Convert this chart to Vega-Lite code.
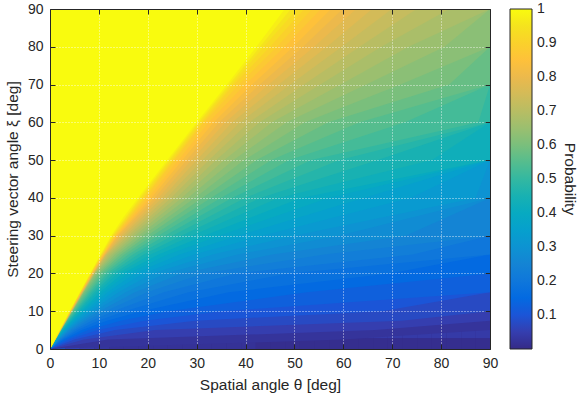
{
"$schema": "https://vega.github.io/schema/vega-lite/v6.json",
"width": 440, "height": 340,
"autosize": "none",
"padding": {"left": 50, "top": 9, "right": 90, "bottom": 56},
"background": "white",
"config": {
  "font": "Liberation Sans",
  "view": {"stroke": null, "fill": "#352a87"},
  "axis": {"labelFont": "Liberation Sans", "titleFont": "Liberation Sans", "labelFontSize": 14, "titleFontSize": 15.5, "labelColor": "#262626", "titleColor": "#262626", "titleFontWeight": "normal", "domain": true, "domainColor": "#262626", "domainWidth": 1, "tickColor": "#262626", "tickSize": -5},
  "legend": {"labelFont": "Liberation Sans", "titleFont": "Liberation Sans"}
},
"data": {"values": [
{"t":0,"s":0,"p":0.17},{"t":3,"s":0,"p":0.06},{"t":6,"s":0,"p":0.04},{"t":9,"s":0,"p":0.03},{"t":12,"s":0,"p":0.02},{"t":15,"s":0,"p":0.02},{"t":18,"s":0,"p":0.02},{"t":21,"s":0,"p":0.02},{"t":24,"s":0,"p":0.02},{"t":27,"s":0,"p":0.02},{"t":30,"s":0,"p":0.02},{"t":33,"s":0,"p":0.02},{"t":36,"s":0,"p":0.02},{"t":39,"s":0,"p":0.02},{"t":42,"s":0,"p":0.01},{"t":45,"s":0,"p":0.01},{"t":48,"s":0,"p":0.01},{"t":51,"s":0,"p":0.01},{"t":54,"s":0,"p":0.01},{"t":57,"s":0,"p":0.01},{"t":60,"s":0,"p":0.01},{"t":63,"s":0,"p":0.01},{"t":66,"s":0,"p":0.01},{"t":69,"s":0,"p":0.01},{"t":72,"s":0,"p":0.01},{"t":75,"s":0,"p":0.01},{"t":78,"s":0,"p":0.01},{"t":81,"s":0,"p":0.01},{"t":84,"s":0,"p":0.01},{"t":87,"s":0,"p":0.01},
{"t":0,"s":3,"p":0.5},{"t":3,"s":3,"p":0.2},{"t":6,"s":3,"p":0.13},{"t":9,"s":3,"p":0.1},{"t":12,"s":3,"p":0.09},{"t":15,"s":3,"p":0.08},{"t":18,"s":3,"p":0.07},{"t":21,"s":3,"p":0.06},{"t":24,"s":3,"p":0.06},{"t":27,"s":3,"p":0.06},{"t":30,"s":3,"p":0.05},{"t":33,"s":3,"p":0.05},{"t":36,"s":3,"p":0.05},{"t":39,"s":3,"p":0.05},{"t":42,"s":3,"p":0.05},{"t":45,"s":3,"p":0.05},{"t":48,"s":3,"p":0.05},{"t":51,"s":3,"p":0.05},{"t":54,"s":3,"p":0.05},{"t":57,"s":3,"p":0.04},{"t":60,"s":3,"p":0.04},{"t":63,"s":3,"p":0.04},{"t":66,"s":3,"p":0.04},{"t":69,"s":3,"p":0.04},{"t":72,"s":3,"p":0.04},{"t":75,"s":3,"p":0.04},{"t":78,"s":3,"p":0.04},{"t":81,"s":3,"p":0.04},{"t":84,"s":3,"p":0.04},{"t":87,"s":3,"p":0.04},
{"t":0,"s":6,"p":1},{"t":3,"s":6,"p":0.37},{"t":6,"s":6,"p":0.24},{"t":9,"s":6,"p":0.18},{"t":12,"s":6,"p":0.15},{"t":15,"s":6,"p":0.14},{"t":18,"s":6,"p":0.12},{"t":21,"s":6,"p":0.11},{"t":24,"s":6,"p":0.11},{"t":27,"s":6,"p":0.1},{"t":30,"s":6,"p":0.1},{"t":33,"s":6,"p":0.09},{"t":36,"s":6,"p":0.09},{"t":39,"s":6,"p":0.09},{"t":42,"s":6,"p":0.09},{"t":45,"s":6,"p":0.08},{"t":48,"s":6,"p":0.08},{"t":51,"s":6,"p":0.08},{"t":54,"s":6,"p":0.08},{"t":57,"s":6,"p":0.08},{"t":60,"s":6,"p":0.08},{"t":63,"s":6,"p":0.08},{"t":66,"s":6,"p":0.08},{"t":69,"s":6,"p":0.08},{"t":72,"s":6,"p":0.07},{"t":75,"s":6,"p":0.07},{"t":78,"s":6,"p":0.07},{"t":81,"s":6,"p":0.07},{"t":84,"s":6,"p":0.07},{"t":87,"s":6,"p":0.07},
{"t":0,"s":9,"p":1},{"t":3,"s":9,"p":0.56},{"t":6,"s":9,"p":0.36},{"t":9,"s":9,"p":0.27},{"t":12,"s":9,"p":0.22},{"t":15,"s":9,"p":0.2},{"t":18,"s":9,"p":0.18},{"t":21,"s":9,"p":0.16},{"t":24,"s":9,"p":0.15},{"t":27,"s":9,"p":0.14},{"t":30,"s":9,"p":0.14},{"t":33,"s":9,"p":0.13},{"t":36,"s":9,"p":0.13},{"t":39,"s":9,"p":0.12},{"t":42,"s":9,"p":0.12},{"t":45,"s":9,"p":0.12},{"t":48,"s":9,"p":0.11},{"t":51,"s":9,"p":0.11},{"t":54,"s":9,"p":0.11},{"t":57,"s":9,"p":0.11},{"t":60,"s":9,"p":0.11},{"t":63,"s":9,"p":0.11},{"t":66,"s":9,"p":0.1},{"t":69,"s":9,"p":0.1},{"t":72,"s":9,"p":0.1},{"t":75,"s":9,"p":0.1},{"t":78,"s":9,"p":0.1},{"t":81,"s":9,"p":0.1},{"t":84,"s":9,"p":0.1},{"t":87,"s":9,"p":0.1},
{"t":0,"s":12,"p":1},{"t":3,"s":12,"p":0.62},{"t":6,"s":12,"p":0.47},{"t":9,"s":12,"p":0.35},{"t":12,"s":12,"p":0.29},{"t":15,"s":12,"p":0.25},{"t":18,"s":12,"p":0.22},{"t":21,"s":12,"p":0.21},{"t":24,"s":12,"p":0.19},{"t":27,"s":12,"p":0.18},{"t":30,"s":12,"p":0.17},{"t":33,"s":12,"p":0.16},{"t":36,"s":12,"p":0.16},{"t":39,"s":12,"p":0.15},{"t":42,"s":12,"p":0.15},{"t":45,"s":12,"p":0.14},{"t":48,"s":12,"p":0.14},{"t":51,"s":12,"p":0.14},{"t":54,"s":12,"p":0.14},{"t":57,"s":12,"p":0.13},{"t":60,"s":12,"p":0.13},{"t":63,"s":12,"p":0.13},{"t":66,"s":12,"p":0.13},{"t":69,"s":12,"p":0.13},{"t":72,"s":12,"p":0.12},{"t":75,"s":12,"p":0.12},{"t":78,"s":12,"p":0.12},{"t":81,"s":12,"p":0.12},{"t":84,"s":12,"p":0.12},{"t":87,"s":12,"p":0.12},
{"t":0,"s":15,"p":1},{"t":3,"s":15,"p":1},{"t":6,"s":15,"p":0.57},{"t":9,"s":15,"p":0.43},{"t":12,"s":15,"p":0.35},{"t":15,"s":15,"p":0.3},{"t":18,"s":15,"p":0.27},{"t":21,"s":15,"p":0.25},{"t":24,"s":15,"p":0.23},{"t":27,"s":15,"p":0.22},{"t":30,"s":15,"p":0.2},{"t":33,"s":15,"p":0.2},{"t":36,"s":15,"p":0.19},{"t":39,"s":15,"p":0.18},{"t":42,"s":15,"p":0.18},{"t":45,"s":15,"p":0.17},{"t":48,"s":15,"p":0.17},{"t":51,"s":15,"p":0.16},{"t":54,"s":15,"p":0.16},{"t":57,"s":15,"p":0.16},{"t":60,"s":15,"p":0.16},{"t":63,"s":15,"p":0.15},{"t":66,"s":15,"p":0.15},{"t":69,"s":15,"p":0.15},{"t":72,"s":15,"p":0.15},{"t":75,"s":15,"p":0.15},{"t":78,"s":15,"p":0.14},{"t":81,"s":15,"p":0.14},{"t":84,"s":15,"p":0.14},{"t":87,"s":15,"p":0.14},
{"t":0,"s":18,"p":1},{"t":3,"s":18,"p":1},{"t":6,"s":18,"p":0.65},{"t":9,"s":18,"p":0.51},{"t":12,"s":18,"p":0.42},{"t":15,"s":18,"p":0.36},{"t":18,"s":18,"p":0.32},{"t":21,"s":18,"p":0.29},{"t":24,"s":18,"p":0.27},{"t":27,"s":18,"p":0.25},{"t":30,"s":18,"p":0.24},{"t":33,"s":18,"p":0.23},{"t":36,"s":18,"p":0.22},{"t":39,"s":18,"p":0.21},{"t":42,"s":18,"p":0.2},{"t":45,"s":18,"p":0.2},{"t":48,"s":18,"p":0.19},{"t":51,"s":18,"p":0.19},{"t":54,"s":18,"p":0.18},{"t":57,"s":18,"p":0.18},{"t":60,"s":18,"p":0.18},{"t":63,"s":18,"p":0.17},{"t":66,"s":18,"p":0.17},{"t":69,"s":18,"p":0.17},{"t":72,"s":18,"p":0.17},{"t":75,"s":18,"p":0.16},{"t":78,"s":18,"p":0.16},{"t":81,"s":18,"p":0.16},{"t":84,"s":18,"p":0.16},{"t":87,"s":18,"p":0.16},
{"t":0,"s":21,"p":1},{"t":3,"s":21,"p":1},{"t":6,"s":21,"p":1},{"t":9,"s":21,"p":0.63},{"t":12,"s":21,"p":0.51},{"t":15,"s":21,"p":0.44},{"t":18,"s":21,"p":0.39},{"t":21,"s":21,"p":0.35},{"t":24,"s":21,"p":0.32},{"t":27,"s":21,"p":0.3},{"t":30,"s":21,"p":0.29},{"t":33,"s":21,"p":0.27},{"t":36,"s":21,"p":0.26},{"t":39,"s":21,"p":0.25},{"t":42,"s":21,"p":0.24},{"t":45,"s":21,"p":0.24},{"t":48,"s":21,"p":0.23},{"t":51,"s":21,"p":0.22},{"t":54,"s":21,"p":0.22},{"t":57,"s":21,"p":0.21},{"t":60,"s":21,"p":0.21},{"t":63,"s":21,"p":0.21},{"t":66,"s":21,"p":0.2},{"t":69,"s":21,"p":0.2},{"t":72,"s":21,"p":0.2},{"t":75,"s":21,"p":0.2},{"t":78,"s":21,"p":0.19},{"t":81,"s":21,"p":0.19},{"t":84,"s":21,"p":0.19},{"t":87,"s":21,"p":0.19},
{"t":0,"s":24,"p":1},{"t":3,"s":24,"p":1},{"t":6,"s":24,"p":1},{"t":9,"s":24,"p":0.75},{"t":12,"s":24,"p":0.61},{"t":15,"s":24,"p":0.52},{"t":18,"s":24,"p":0.46},{"t":21,"s":24,"p":0.42},{"t":24,"s":24,"p":0.38},{"t":27,"s":24,"p":0.36},{"t":30,"s":24,"p":0.34},{"t":33,"s":24,"p":0.32},{"t":36,"s":24,"p":0.31},{"t":39,"s":24,"p":0.29},{"t":42,"s":24,"p":0.28},{"t":45,"s":24,"p":0.28},{"t":48,"s":24,"p":0.27},{"t":51,"s":24,"p":0.26},{"t":54,"s":24,"p":0.25},{"t":57,"s":24,"p":0.25},{"t":60,"s":24,"p":0.24},{"t":63,"s":24,"p":0.24},{"t":66,"s":24,"p":0.24},{"t":69,"s":24,"p":0.23},{"t":72,"s":24,"p":0.23},{"t":75,"s":24,"p":0.23},{"t":78,"s":24,"p":0.22},{"t":81,"s":24,"p":0.22},{"t":84,"s":24,"p":0.22},{"t":87,"s":24,"p":0.22},
{"t":0,"s":27,"p":1},{"t":3,"s":27,"p":1},{"t":6,"s":27,"p":1},{"t":9,"s":27,"p":0.8},{"t":12,"s":27,"p":0.72},{"t":15,"s":27,"p":0.6},{"t":18,"s":27,"p":0.54},{"t":21,"s":27,"p":0.48},{"t":24,"s":27,"p":0.44},{"t":27,"s":27,"p":0.41},{"t":30,"s":27,"p":0.39},{"t":33,"s":27,"p":0.37},{"t":36,"s":27,"p":0.35},{"t":39,"s":27,"p":0.34},{"t":42,"s":27,"p":0.32},{"t":45,"s":27,"p":0.31},{"t":48,"s":27,"p":0.3},{"t":51,"s":27,"p":0.3},{"t":54,"s":27,"p":0.29},{"t":57,"s":27,"p":0.28},{"t":60,"s":27,"p":0.28},{"t":63,"s":27,"p":0.27},{"t":66,"s":27,"p":0.27},{"t":69,"s":27,"p":0.26},{"t":72,"s":27,"p":0.26},{"t":75,"s":27,"p":0.26},{"t":78,"s":27,"p":0.25},{"t":81,"s":27,"p":0.25},{"t":84,"s":27,"p":0.25},{"t":87,"s":27,"p":0.24},
{"t":0,"s":30,"p":1},{"t":3,"s":30,"p":1},{"t":6,"s":30,"p":1},{"t":9,"s":30,"p":1},{"t":12,"s":30,"p":0.84},{"t":15,"s":30,"p":0.71},{"t":18,"s":30,"p":0.62},{"t":21,"s":30,"p":0.56},{"t":24,"s":30,"p":0.51},{"t":27,"s":30,"p":0.47},{"t":30,"s":30,"p":0.44},{"t":33,"s":30,"p":0.42},{"t":36,"s":30,"p":0.4},{"t":39,"s":30,"p":0.38},{"t":42,"s":30,"p":0.37},{"t":45,"s":30,"p":0.35},{"t":48,"s":30,"p":0.34},{"t":51,"s":30,"p":0.33},{"t":54,"s":30,"p":0.32},{"t":57,"s":30,"p":0.32},{"t":60,"s":30,"p":0.31},{"t":63,"s":30,"p":0.3},{"t":66,"s":30,"p":0.3},{"t":69,"s":30,"p":0.29},{"t":72,"s":30,"p":0.29},{"t":75,"s":30,"p":0.28},{"t":78,"s":30,"p":0.28},{"t":81,"s":30,"p":0.27},{"t":84,"s":30,"p":0.27},{"t":87,"s":30,"p":0.27},
{"t":0,"s":33,"p":1},{"t":3,"s":33,"p":1},{"t":6,"s":33,"p":1},{"t":9,"s":33,"p":1},{"t":12,"s":33,"p":0.87},{"t":15,"s":33,"p":0.8},{"t":18,"s":33,"p":0.7},{"t":21,"s":33,"p":0.63},{"t":24,"s":33,"p":0.57},{"t":27,"s":33,"p":0.53},{"t":30,"s":33,"p":0.49},{"t":33,"s":33,"p":0.46},{"t":36,"s":33,"p":0.44},{"t":39,"s":33,"p":0.42},{"t":42,"s":33,"p":0.4},{"t":45,"s":33,"p":0.39},{"t":48,"s":33,"p":0.37},{"t":51,"s":33,"p":0.36},{"t":54,"s":33,"p":0.35},{"t":57,"s":33,"p":0.34},{"t":60,"s":33,"p":0.33},{"t":63,"s":33,"p":0.33},{"t":66,"s":33,"p":0.32},{"t":69,"s":33,"p":0.31},{"t":72,"s":33,"p":0.31},{"t":75,"s":33,"p":0.3},{"t":78,"s":33,"p":0.3},{"t":81,"s":33,"p":0.29},{"t":84,"s":33,"p":0.29},{"t":87,"s":33,"p":0.29},
{"t":0,"s":36,"p":1},{"t":3,"s":36,"p":1},{"t":6,"s":36,"p":1},{"t":9,"s":36,"p":1},{"t":12,"s":36,"p":1},{"t":15,"s":36,"p":0.89},{"t":18,"s":36,"p":0.78},{"t":21,"s":36,"p":0.69},{"t":24,"s":36,"p":0.63},{"t":27,"s":36,"p":0.58},{"t":30,"s":36,"p":0.54},{"t":33,"s":36,"p":0.51},{"t":36,"s":36,"p":0.48},{"t":39,"s":36,"p":0.46},{"t":42,"s":36,"p":0.44},{"t":45,"s":36,"p":0.42},{"t":48,"s":36,"p":0.41},{"t":51,"s":36,"p":0.39},{"t":54,"s":36,"p":0.38},{"t":57,"s":36,"p":0.37},{"t":60,"s":36,"p":0.36},{"t":63,"s":36,"p":0.36},{"t":66,"s":36,"p":0.35},{"t":69,"s":36,"p":0.34},{"t":72,"s":36,"p":0.33},{"t":75,"s":36,"p":0.33},{"t":78,"s":36,"p":0.32},{"t":81,"s":36,"p":0.32},{"t":84,"s":36,"p":0.31},{"t":87,"s":36,"p":0.31},
{"t":0,"s":39,"p":1},{"t":3,"s":39,"p":1},{"t":6,"s":39,"p":1},{"t":9,"s":39,"p":1},{"t":12,"s":39,"p":1},{"t":15,"s":39,"p":1},{"t":18,"s":39,"p":0.85},{"t":21,"s":39,"p":0.75},{"t":24,"s":39,"p":0.68},{"t":27,"s":39,"p":0.62},{"t":30,"s":39,"p":0.58},{"t":33,"s":39,"p":0.54},{"t":36,"s":39,"p":0.51},{"t":39,"s":39,"p":0.49},{"t":42,"s":39,"p":0.46},{"t":45,"s":39,"p":0.45},{"t":48,"s":39,"p":0.43},{"t":51,"s":39,"p":0.42},{"t":54,"s":39,"p":0.4},{"t":57,"s":39,"p":0.39},{"t":60,"s":39,"p":0.38},{"t":63,"s":39,"p":0.37},{"t":66,"s":39,"p":0.36},{"t":69,"s":39,"p":0.36},{"t":72,"s":39,"p":0.35},{"t":75,"s":39,"p":0.34},{"t":78,"s":39,"p":0.34},{"t":81,"s":39,"p":0.33},{"t":84,"s":39,"p":0.33},{"t":87,"s":39,"p":0.32},
{"t":0,"s":42,"p":1},{"t":3,"s":42,"p":1},{"t":6,"s":42,"p":1},{"t":9,"s":42,"p":1},{"t":12,"s":42,"p":1},{"t":15,"s":42,"p":1},{"t":18,"s":42,"p":0.9},{"t":21,"s":42,"p":0.81},{"t":24,"s":42,"p":0.73},{"t":27,"s":42,"p":0.67},{"t":30,"s":42,"p":0.62},{"t":33,"s":42,"p":0.58},{"t":36,"s":42,"p":0.55},{"t":39,"s":42,"p":0.52},{"t":42,"s":42,"p":0.5},{"t":45,"s":42,"p":0.48},{"t":48,"s":42,"p":0.46},{"t":51,"s":42,"p":0.45},{"t":54,"s":42,"p":0.43},{"t":57,"s":42,"p":0.42},{"t":60,"s":42,"p":0.41},{"t":63,"s":42,"p":0.4},{"t":66,"s":42,"p":0.39},{"t":69,"s":42,"p":0.39},{"t":72,"s":42,"p":0.38},{"t":75,"s":42,"p":0.37},{"t":78,"s":42,"p":0.37},{"t":81,"s":42,"p":0.36},{"t":84,"s":42,"p":0.36},{"t":87,"s":42,"p":0.35},
{"t":0,"s":45,"p":1},{"t":3,"s":45,"p":1},{"t":6,"s":45,"p":1},{"t":9,"s":45,"p":1},{"t":12,"s":45,"p":1},{"t":15,"s":45,"p":1},{"t":18,"s":45,"p":1},{"t":21,"s":45,"p":0.88},{"t":24,"s":45,"p":0.79},{"t":27,"s":45,"p":0.72},{"t":30,"s":45,"p":0.67},{"t":33,"s":45,"p":0.62},{"t":36,"s":45,"p":0.59},{"t":39,"s":45,"p":0.56},{"t":42,"s":45,"p":0.54},{"t":45,"s":45,"p":0.52},{"t":48,"s":45,"p":0.5},{"t":51,"s":45,"p":0.48},{"t":54,"s":45,"p":0.47},{"t":57,"s":45,"p":0.46},{"t":60,"s":45,"p":0.45},{"t":63,"s":45,"p":0.44},{"t":66,"s":45,"p":0.43},{"t":69,"s":45,"p":0.42},{"t":72,"s":45,"p":0.42},{"t":75,"s":45,"p":0.41},{"t":78,"s":45,"p":0.41},{"t":81,"s":45,"p":0.4},{"t":84,"s":45,"p":0.4},{"t":87,"s":45,"p":0.39},
{"t":0,"s":48,"p":1},{"t":3,"s":48,"p":1},{"t":6,"s":48,"p":1},{"t":9,"s":48,"p":1},{"t":12,"s":48,"p":1},{"t":15,"s":48,"p":1},{"t":18,"s":48,"p":1},{"t":21,"s":48,"p":0.9},{"t":24,"s":48,"p":0.84},{"t":27,"s":48,"p":0.77},{"t":30,"s":48,"p":0.71},{"t":33,"s":48,"p":0.66},{"t":36,"s":48,"p":0.63},{"t":39,"s":48,"p":0.6},{"t":42,"s":48,"p":0.57},{"t":45,"s":48,"p":0.55},{"t":48,"s":48,"p":0.53},{"t":51,"s":48,"p":0.52},{"t":54,"s":48,"p":0.5},{"t":57,"s":48,"p":0.49},{"t":60,"s":48,"p":0.48},{"t":63,"s":48,"p":0.47},{"t":66,"s":48,"p":0.46},{"t":69,"s":48,"p":0.46},{"t":72,"s":48,"p":0.45},{"t":75,"s":48,"p":0.44},{"t":78,"s":48,"p":0.44},{"t":81,"s":48,"p":0.44},{"t":84,"s":48,"p":0.43},{"t":87,"s":48,"p":0.43},
{"t":0,"s":51,"p":1},{"t":3,"s":51,"p":1},{"t":6,"s":51,"p":1},{"t":9,"s":51,"p":1},{"t":12,"s":51,"p":1},{"t":15,"s":51,"p":1},{"t":18,"s":51,"p":1},{"t":21,"s":51,"p":1},{"t":24,"s":51,"p":0.9},{"t":27,"s":51,"p":0.82},{"t":30,"s":51,"p":0.75},{"t":33,"s":51,"p":0.7},{"t":36,"s":51,"p":0.67},{"t":39,"s":51,"p":0.63},{"t":42,"s":51,"p":0.61},{"t":45,"s":51,"p":0.59},{"t":48,"s":51,"p":0.57},{"t":51,"s":51,"p":0.55},{"t":54,"s":51,"p":0.54},{"t":57,"s":51,"p":0.52},{"t":60,"s":51,"p":0.51},{"t":63,"s":51,"p":0.51},{"t":66,"s":51,"p":0.5},{"t":69,"s":51,"p":0.49},{"t":72,"s":51,"p":0.48},{"t":75,"s":51,"p":0.48},{"t":78,"s":51,"p":0.47},{"t":81,"s":51,"p":0.47},{"t":84,"s":51,"p":0.46},{"t":87,"s":51,"p":0.46},
{"t":0,"s":54,"p":1},{"t":3,"s":54,"p":1},{"t":6,"s":54,"p":1},{"t":9,"s":54,"p":1},{"t":12,"s":54,"p":1},{"t":15,"s":54,"p":1},{"t":18,"s":54,"p":1},{"t":21,"s":54,"p":1},{"t":24,"s":54,"p":1},{"t":27,"s":54,"p":0.87},{"t":30,"s":54,"p":0.8},{"t":33,"s":54,"p":0.74},{"t":36,"s":54,"p":0.7},{"t":39,"s":54,"p":0.67},{"t":42,"s":54,"p":0.64},{"t":45,"s":54,"p":0.61},{"t":48,"s":54,"p":0.6},{"t":51,"s":54,"p":0.58},{"t":54,"s":54,"p":0.57},{"t":57,"s":54,"p":0.55},{"t":60,"s":54,"p":0.54},{"t":63,"s":54,"p":0.53},{"t":66,"s":54,"p":0.53},{"t":69,"s":54,"p":0.52},{"t":72,"s":54,"p":0.51},{"t":75,"s":54,"p":0.51},{"t":78,"s":54,"p":0.5},{"t":81,"s":54,"p":0.5},{"t":84,"s":54,"p":0.49},{"t":87,"s":54,"p":0.49},
{"t":0,"s":57,"p":1},{"t":3,"s":57,"p":1},{"t":6,"s":57,"p":1},{"t":9,"s":57,"p":1},{"t":12,"s":57,"p":1},{"t":15,"s":57,"p":1},{"t":18,"s":57,"p":1},{"t":21,"s":57,"p":1},{"t":24,"s":57,"p":1},{"t":27,"s":57,"p":0.9},{"t":30,"s":57,"p":0.84},{"t":33,"s":57,"p":0.78},{"t":36,"s":57,"p":0.73},{"t":39,"s":57,"p":0.69},{"t":42,"s":57,"p":0.66},{"t":45,"s":57,"p":0.64},{"t":48,"s":57,"p":0.62},{"t":51,"s":57,"p":0.6},{"t":54,"s":57,"p":0.59},{"t":57,"s":57,"p":0.58},{"t":60,"s":57,"p":0.57},{"t":63,"s":57,"p":0.56},{"t":66,"s":57,"p":0.55},{"t":69,"s":57,"p":0.54},{"t":72,"s":57,"p":0.54},{"t":75,"s":57,"p":0.53},{"t":78,"s":57,"p":0.53},{"t":81,"s":57,"p":0.52},{"t":84,"s":57,"p":0.52},{"t":87,"s":57,"p":0.51},
{"t":0,"s":60,"p":1},{"t":3,"s":60,"p":1},{"t":6,"s":60,"p":1},{"t":9,"s":60,"p":1},{"t":12,"s":60,"p":1},{"t":15,"s":60,"p":1},{"t":18,"s":60,"p":1},{"t":21,"s":60,"p":1},{"t":24,"s":60,"p":1},{"t":27,"s":60,"p":1},{"t":30,"s":60,"p":0.89},{"t":33,"s":60,"p":0.82},{"t":36,"s":60,"p":0.77},{"t":39,"s":60,"p":0.72},{"t":42,"s":60,"p":0.69},{"t":45,"s":60,"p":0.67},{"t":48,"s":60,"p":0.64},{"t":51,"s":60,"p":0.63},{"t":54,"s":60,"p":0.61},{"t":57,"s":60,"p":0.6},{"t":60,"s":60,"p":0.59},{"t":63,"s":60,"p":0.58},{"t":66,"s":60,"p":0.57},{"t":69,"s":60,"p":0.56},{"t":72,"s":60,"p":0.55},{"t":75,"s":60,"p":0.55},{"t":78,"s":60,"p":0.54},{"t":81,"s":60,"p":0.54},{"t":84,"s":60,"p":0.53},{"t":87,"s":60,"p":0.53},
{"t":0,"s":63,"p":1},{"t":3,"s":63,"p":1},{"t":6,"s":63,"p":1},{"t":9,"s":63,"p":1},{"t":12,"s":63,"p":1},{"t":15,"s":63,"p":1},{"t":18,"s":63,"p":1},{"t":21,"s":63,"p":1},{"t":24,"s":63,"p":1},{"t":27,"s":63,"p":1},{"t":30,"s":63,"p":0.91},{"t":33,"s":63,"p":0.87},{"t":36,"s":63,"p":0.81},{"t":39,"s":63,"p":0.77},{"t":42,"s":63,"p":0.73},{"t":45,"s":63,"p":0.7},{"t":48,"s":63,"p":0.68},{"t":51,"s":63,"p":0.66},{"t":54,"s":63,"p":0.64},{"t":57,"s":63,"p":0.63},{"t":60,"s":63,"p":0.62},{"t":63,"s":63,"p":0.61},{"t":66,"s":63,"p":0.6},{"t":69,"s":63,"p":0.59},{"t":72,"s":63,"p":0.58},{"t":75,"s":63,"p":0.58},{"t":78,"s":63,"p":0.57},{"t":81,"s":63,"p":0.56},{"t":84,"s":63,"p":0.56},{"t":87,"s":63,"p":0.56},
{"t":0,"s":66,"p":1},{"t":3,"s":66,"p":1},{"t":6,"s":66,"p":1},{"t":9,"s":66,"p":1},{"t":12,"s":66,"p":1},{"t":15,"s":66,"p":1},{"t":18,"s":66,"p":1},{"t":21,"s":66,"p":1},{"t":24,"s":66,"p":1},{"t":27,"s":66,"p":1},{"t":30,"s":66,"p":1},{"t":33,"s":66,"p":0.92},{"t":36,"s":66,"p":0.86},{"t":39,"s":66,"p":0.81},{"t":42,"s":66,"p":0.77},{"t":45,"s":66,"p":0.74},{"t":48,"s":66,"p":0.71},{"t":51,"s":66,"p":0.69},{"t":54,"s":66,"p":0.67},{"t":57,"s":66,"p":0.65},{"t":60,"s":66,"p":0.64},{"t":63,"s":66,"p":0.63},{"t":66,"s":66,"p":0.62},{"t":69,"s":66,"p":0.61},{"t":72,"s":66,"p":0.6},{"t":75,"s":66,"p":0.59},{"t":78,"s":66,"p":0.59},{"t":81,"s":66,"p":0.58},{"t":84,"s":66,"p":0.58},{"t":87,"s":66,"p":0.57},
{"t":0,"s":69,"p":1},{"t":3,"s":69,"p":1},{"t":6,"s":69,"p":1},{"t":9,"s":69,"p":1},{"t":12,"s":69,"p":1},{"t":15,"s":69,"p":1},{"t":18,"s":69,"p":1},{"t":21,"s":69,"p":1},{"t":24,"s":69,"p":1},{"t":27,"s":69,"p":1},{"t":30,"s":69,"p":1},{"t":33,"s":69,"p":1},{"t":36,"s":69,"p":0.9},{"t":39,"s":69,"p":0.84},{"t":42,"s":69,"p":0.8},{"t":45,"s":69,"p":0.77},{"t":48,"s":69,"p":0.74},{"t":51,"s":69,"p":0.71},{"t":54,"s":69,"p":0.69},{"t":57,"s":69,"p":0.68},{"t":60,"s":69,"p":0.66},{"t":63,"s":69,"p":0.65},{"t":66,"s":69,"p":0.64},{"t":69,"s":69,"p":0.63},{"t":72,"s":69,"p":0.62},{"t":75,"s":69,"p":0.61},{"t":78,"s":69,"p":0.6},{"t":81,"s":69,"p":0.6},{"t":84,"s":69,"p":0.59},{"t":87,"s":69,"p":0.59},
{"t":0,"s":72,"p":1},{"t":3,"s":72,"p":1},{"t":6,"s":72,"p":1},{"t":9,"s":72,"p":1},{"t":12,"s":72,"p":1},{"t":15,"s":72,"p":1},{"t":18,"s":72,"p":1},{"t":21,"s":72,"p":1},{"t":24,"s":72,"p":1},{"t":27,"s":72,"p":1},{"t":30,"s":72,"p":1},{"t":33,"s":72,"p":1},{"t":36,"s":72,"p":0.93},{"t":39,"s":72,"p":0.89},{"t":42,"s":72,"p":0.84},{"t":45,"s":72,"p":0.8},{"t":48,"s":72,"p":0.77},{"t":51,"s":72,"p":0.74},{"t":54,"s":72,"p":0.72},{"t":57,"s":72,"p":0.7},{"t":60,"s":72,"p":0.68},{"t":63,"s":72,"p":0.67},{"t":66,"s":72,"p":0.66},{"t":69,"s":72,"p":0.64},{"t":72,"s":72,"p":0.63},{"t":75,"s":72,"p":0.63},{"t":78,"s":72,"p":0.62},{"t":81,"s":72,"p":0.61},{"t":84,"s":72,"p":0.61},{"t":87,"s":72,"p":0.6},
{"t":0,"s":75,"p":1},{"t":3,"s":75,"p":1},{"t":6,"s":75,"p":1},{"t":9,"s":75,"p":1},{"t":12,"s":75,"p":1},{"t":15,"s":75,"p":1},{"t":18,"s":75,"p":1},{"t":21,"s":75,"p":1},{"t":24,"s":75,"p":1},{"t":27,"s":75,"p":1},{"t":30,"s":75,"p":1},{"t":33,"s":75,"p":1},{"t":36,"s":75,"p":1},{"t":39,"s":75,"p":0.93},{"t":42,"s":75,"p":0.88},{"t":45,"s":75,"p":0.83},{"t":48,"s":75,"p":0.8},{"t":51,"s":75,"p":0.77},{"t":54,"s":75,"p":0.74},{"t":57,"s":75,"p":0.72},{"t":60,"s":75,"p":0.7},{"t":63,"s":75,"p":0.69},{"t":66,"s":75,"p":0.67},{"t":69,"s":75,"p":0.66},{"t":72,"s":75,"p":0.65},{"t":75,"s":75,"p":0.64},{"t":78,"s":75,"p":0.63},{"t":81,"s":75,"p":0.63},{"t":84,"s":75,"p":0.62},{"t":87,"s":75,"p":0.61},
{"t":0,"s":78,"p":1},{"t":3,"s":78,"p":1},{"t":6,"s":78,"p":1},{"t":9,"s":78,"p":1},{"t":12,"s":78,"p":1},{"t":15,"s":78,"p":1},{"t":18,"s":78,"p":1},{"t":21,"s":78,"p":1},{"t":24,"s":78,"p":1},{"t":27,"s":78,"p":1},{"t":30,"s":78,"p":1},{"t":33,"s":78,"p":1},{"t":36,"s":78,"p":1},{"t":39,"s":78,"p":0.95},{"t":42,"s":78,"p":0.92},{"t":45,"s":78,"p":0.87},{"t":48,"s":78,"p":0.83},{"t":51,"s":78,"p":0.8},{"t":54,"s":78,"p":0.77},{"t":57,"s":78,"p":0.74},{"t":60,"s":78,"p":0.72},{"t":63,"s":78,"p":0.71},{"t":66,"s":78,"p":0.69},{"t":69,"s":78,"p":0.68},{"t":72,"s":78,"p":0.67},{"t":75,"s":78,"p":0.66},{"t":78,"s":78,"p":0.65},{"t":81,"s":78,"p":0.64},{"t":84,"s":78,"p":0.63},{"t":87,"s":78,"p":0.62},
{"t":0,"s":81,"p":1},{"t":3,"s":81,"p":1},{"t":6,"s":81,"p":1},{"t":9,"s":81,"p":1},{"t":12,"s":81,"p":1},{"t":15,"s":81,"p":1},{"t":18,"s":81,"p":1},{"t":21,"s":81,"p":1},{"t":24,"s":81,"p":1},{"t":27,"s":81,"p":1},{"t":30,"s":81,"p":1},{"t":33,"s":81,"p":1},{"t":36,"s":81,"p":1},{"t":39,"s":81,"p":1},{"t":42,"s":81,"p":0.95},{"t":45,"s":81,"p":0.91},{"t":48,"s":81,"p":0.86},{"t":51,"s":81,"p":0.82},{"t":54,"s":81,"p":0.79},{"t":57,"s":81,"p":0.77},{"t":60,"s":81,"p":0.74},{"t":63,"s":81,"p":0.72},{"t":66,"s":81,"p":0.71},{"t":69,"s":81,"p":0.69},{"t":72,"s":81,"p":0.68},{"t":75,"s":81,"p":0.67},{"t":78,"s":81,"p":0.66},{"t":81,"s":81,"p":0.65},{"t":84,"s":81,"p":0.64},{"t":87,"s":81,"p":0.64},
{"t":0,"s":84,"p":1},{"t":3,"s":84,"p":1},{"t":6,"s":84,"p":1},{"t":9,"s":84,"p":1},{"t":12,"s":84,"p":1},{"t":15,"s":84,"p":1},{"t":18,"s":84,"p":1},{"t":21,"s":84,"p":1},{"t":24,"s":84,"p":1},{"t":27,"s":84,"p":1},{"t":30,"s":84,"p":1},{"t":33,"s":84,"p":1},{"t":36,"s":84,"p":1},{"t":39,"s":84,"p":1},{"t":42,"s":84,"p":1},{"t":45,"s":84,"p":0.95},{"t":48,"s":84,"p":0.9},{"t":51,"s":84,"p":0.85},{"t":54,"s":84,"p":0.82},{"t":57,"s":84,"p":0.79},{"t":60,"s":84,"p":0.77},{"t":63,"s":84,"p":0.75},{"t":66,"s":84,"p":0.73},{"t":69,"s":84,"p":0.71},{"t":72,"s":84,"p":0.7},{"t":75,"s":84,"p":0.69},{"t":78,"s":84,"p":0.68},{"t":81,"s":84,"p":0.67},{"t":84,"s":84,"p":0.66},{"t":87,"s":84,"p":0.65},
{"t":0,"s":87,"p":1},{"t":3,"s":87,"p":1},{"t":6,"s":87,"p":1},{"t":9,"s":87,"p":1},{"t":12,"s":87,"p":1},{"t":15,"s":87,"p":1},{"t":18,"s":87,"p":1},{"t":21,"s":87,"p":1},{"t":24,"s":87,"p":1},{"t":27,"s":87,"p":1},{"t":30,"s":87,"p":1},{"t":33,"s":87,"p":1},{"t":36,"s":87,"p":1},{"t":39,"s":87,"p":1},{"t":42,"s":87,"p":1},{"t":45,"s":87,"p":0.97},{"t":48,"s":87,"p":0.93},{"t":51,"s":87,"p":0.88},{"t":54,"s":87,"p":0.84},{"t":57,"s":87,"p":0.81},{"t":60,"s":87,"p":0.79},{"t":63,"s":87,"p":0.76},{"t":66,"s":87,"p":0.74},{"t":69,"s":87,"p":0.73},{"t":72,"s":87,"p":0.72},{"t":75,"s":87,"p":0.7},{"t":78,"s":87,"p":0.69},{"t":81,"s":87,"p":0.68},{"t":84,"s":87,"p":0.68},{"t":87,"s":87,"p":0.67}
]},
"layer": [
 {
  "mark": {"type": "rect", "clip": true},
  "encoding": {
    "x": {"field": "t", "type": "quantitative", "bin": {"binned": true, "step": 3},
          "scale": {"domain": [0, 90], "nice": false, "zero": false},
          "axis": {"title": "Spatial angle θ [deg]", "orient": "bottom", "zindex": 1, "values": [0,10,20,30,40,50,60,70,80,90], "format": "d", "labelPadding": 12, "titlePadding": 7, "labelFlush": false, "grid": true, "gridColor": "#ffffff", "gridOpacity": 0.8, "gridDash": [1, 2], "gridWidth": 1}},
    "y": {"field": "s", "type": "quantitative", "bin": {"binned": true, "step": 3},
          "scale": {"domain": [0, 90], "nice": false, "zero": false},
          "axis": {"title": "Steering vector angle ξ [deg]", "orient": "left", "zindex": 1, "values": [0,10,20,30,40,50,60,70,80,90], "format": "d", "labelPadding": 12, "titlePadding": 7, "labelFlush": false, "grid": true, "gridColor": "#ffffff", "gridOpacity": 0.8, "gridDash": [1, 2], "gridWidth": 1}},
    "fill": {"field": "p", "type": "quantitative",
             "scale": {"type": "linear", "domain": [0,0.05,0.1,0.15,0.2,0.25,0.3,0.35,0.4,0.45,0.5,0.55,0.6,0.65,0.7,0.75,0.8,0.85,0.9,0.95,1],
                       "range": ["#352a87","#353eaf","#1b55d7","#036ae1","#0f77db","#1484d4","#0d93d2","#06a0cd","#07aac1","#18b1b2","#33b8a1","#55bd8e","#7abf7c","#9bbf6f","#b8bd63","#d3bb58","#ecb94c","#fec13a","#fad12b","#f5e31e","#f9fb0e"],
                       "interpolate": "rgb", "clamp": true},
             "legend": {"type": "gradient", "orient": "none", "legendX": 460, "legendY": 0, "direction": "vertical", "gradientLength": 340, "gradientThickness": 22,
                        "values": [0.1,0.2,0.3,0.4,0.5,0.6,0.7,0.8,0.9,0.9999], "format": ".1~f", "labelFontSize": 14, "labelColor": "#262626", "labelOffset": 5, "labelOverlap": false,
                        "title": "Probability", "titleOrient": "right", "titleAngle": 270, "titleAnchor": "middle", "titleFontSize": 15.5, "titleFontWeight": "normal", "titleColor": "#262626", "titlePadding": 6,
                        "gradientStrokeColor": "#262626", "gradientStrokeWidth": 1}}
  }
 },
 {
  "data": {"values": [
{"p":0.025,"xi":0,"th":0},{"p":0.025,"xi":2.5,"th":59.95},{"p":0.025,"xi":5,"th":90},{"p":0.025,"xi":7.5,"th":90},{"p":0.025,"xi":10,"th":90},{"p":0.025,"xi":15,"th":90},{"p":0.025,"xi":20,"th":90},{"p":0.025,"xi":25,"th":90},{"p":0.025,"xi":30,"th":90},{"p":0.025,"xi":40,"th":90},{"p":0.025,"xi":50,"th":90},{"p":0.025,"xi":60,"th":90},{"p":0.025,"xi":70,"th":90},{"p":0.025,"xi":80,"th":90},{"p":0.025,"xi":90,"th":90},
{"p":0.05,"xi":0,"th":0},{"p":0.05,"xi":2.5,"th":11.87},{"p":0.05,"xi":5,"th":66.5},{"p":0.05,"xi":7.5,"th":90},{"p":0.05,"xi":10,"th":90},{"p":0.05,"xi":15,"th":90},{"p":0.05,"xi":20,"th":90},{"p":0.05,"xi":25,"th":90},{"p":0.05,"xi":30,"th":90},{"p":0.05,"xi":40,"th":90},{"p":0.05,"xi":50,"th":90},{"p":0.05,"xi":60,"th":90},{"p":0.05,"xi":70,"th":90},{"p":0.05,"xi":80,"th":90},{"p":0.05,"xi":90,"th":90},
{"p":0.075,"xi":0,"th":0},{"p":0.075,"xi":2.5,"th":6.91},{"p":0.075,"xi":5,"th":21.5},{"p":0.075,"xi":7.5,"th":71.9},{"p":0.075,"xi":10,"th":90},{"p":0.075,"xi":15,"th":90},{"p":0.075,"xi":20,"th":90},{"p":0.075,"xi":25,"th":90},{"p":0.075,"xi":30,"th":90},{"p":0.075,"xi":40,"th":90},{"p":0.075,"xi":50,"th":90},{"p":0.075,"xi":60,"th":90},{"p":0.075,"xi":70,"th":90},{"p":0.075,"xi":80,"th":90},{"p":0.075,"xi":90,"th":90},
{"p":0.1,"xi":0,"th":0},{"p":0.1,"xi":2.5,"th":4.96},{"p":0.1,"xi":5,"th":13.29},{"p":0.1,"xi":7.5,"th":29.71},{"p":0.1,"xi":10,"th":67.9},{"p":0.1,"xi":15,"th":90},{"p":0.1,"xi":20,"th":90},{"p":0.1,"xi":25,"th":90},{"p":0.1,"xi":30,"th":90},{"p":0.1,"xi":40,"th":90},{"p":0.1,"xi":50,"th":90},{"p":0.1,"xi":60,"th":90},{"p":0.1,"xi":70,"th":90},{"p":0.1,"xi":80,"th":90},{"p":0.1,"xi":90,"th":90},
{"p":0.125,"xi":0,"th":0},{"p":0.125,"xi":2.5,"th":3.9},{"p":0.125,"xi":5,"th":9.76},{"p":0.125,"xi":7.5,"th":19.27},{"p":0.125,"xi":10,"th":35.06},{"p":0.125,"xi":15,"th":90},{"p":0.125,"xi":20,"th":90},{"p":0.125,"xi":25,"th":90},{"p":0.125,"xi":30,"th":90},{"p":0.125,"xi":40,"th":90},{"p":0.125,"xi":50,"th":90},{"p":0.125,"xi":60,"th":90},{"p":0.125,"xi":70,"th":90},{"p":0.125,"xi":80,"th":90},{"p":0.125,"xi":90,"th":90},
{"p":0.15,"xi":0,"th":0},{"p":0.15,"xi":2.5,"th":3.24},{"p":0.15,"xi":5,"th":7.79},{"p":0.15,"xi":7.5,"th":14.45},{"p":0.15,"xi":10,"th":24.14},{"p":0.15,"xi":15,"th":52.5},{"p":0.15,"xi":20,"th":90},{"p":0.15,"xi":25,"th":90},{"p":0.15,"xi":30,"th":90},{"p":0.15,"xi":40,"th":90},{"p":0.15,"xi":50,"th":90},{"p":0.15,"xi":60,"th":90},{"p":0.15,"xi":70,"th":90},{"p":0.15,"xi":80,"th":90},{"p":0.15,"xi":90,"th":90},
{"p":0.175,"xi":0,"th":0},{"p":0.175,"xi":2.5,"th":2.78},{"p":0.175,"xi":5,"th":6.52},{"p":0.175,"xi":7.5,"th":11.65},{"p":0.175,"xi":10,"th":18.61},{"p":0.175,"xi":15,"th":36.57},{"p":0.175,"xi":20,"th":69.5},{"p":0.175,"xi":25,"th":90},{"p":0.175,"xi":30,"th":90},{"p":0.175,"xi":40,"th":90},{"p":0.175,"xi":50,"th":90},{"p":0.175,"xi":60,"th":90},{"p":0.175,"xi":70,"th":90},{"p":0.175,"xi":80,"th":90},{"p":0.175,"xi":90,"th":90},
{"p":0.2,"xi":0,"th":0},{"p":0.2,"xi":2.5,"th":2.45},{"p":0.2,"xi":5,"th":5.63},{"p":0.2,"xi":7.5,"th":9.82},{"p":0.2,"xi":10,"th":15.25},{"p":0.2,"xi":15,"th":28.34},{"p":0.2,"xi":20,"th":48.93},{"p":0.2,"xi":25,"th":90},{"p":0.2,"xi":30,"th":90},{"p":0.2,"xi":40,"th":90},{"p":0.2,"xi":50,"th":90},{"p":0.2,"xi":60,"th":90},{"p":0.2,"xi":70,"th":90},{"p":0.2,"xi":80,"th":90},{"p":0.2,"xi":90,"th":90},
{"p":0.225,"xi":0,"th":0},{"p":0.225,"xi":2.5,"th":2.19},{"p":0.225,"xi":5,"th":4.97},{"p":0.225,"xi":7.5,"th":8.52},{"p":0.225,"xi":10,"th":12.98},{"p":0.225,"xi":15,"th":23.29},{"p":0.225,"xi":20,"th":38.12},{"p":0.225,"xi":25,"th":74.19},{"p":0.225,"xi":30,"th":90},{"p":0.225,"xi":40,"th":90},{"p":0.225,"xi":50,"th":90},{"p":0.225,"xi":60,"th":90},{"p":0.225,"xi":70,"th":90},{"p":0.225,"xi":80,"th":90},{"p":0.225,"xi":90,"th":90},
{"p":0.25,"xi":0,"th":0},{"p":0.25,"xi":2.5,"th":1.99},{"p":0.25,"xi":5,"th":4.46},{"p":0.25,"xi":7.5,"th":7.55},{"p":0.25,"xi":10,"th":11.34},{"p":0.25,"xi":15,"th":19.85},{"p":0.25,"xi":20,"th":31.41},{"p":0.25,"xi":25,"th":56.11},{"p":0.25,"xi":30,"th":90},{"p":0.25,"xi":40,"th":90},{"p":0.25,"xi":50,"th":90},{"p":0.25,"xi":60,"th":90},{"p":0.25,"xi":70,"th":90},{"p":0.25,"xi":80,"th":90},{"p":0.25,"xi":90,"th":90},
{"p":0.275,"xi":0,"th":0},{"p":0.275,"xi":2.5,"th":1.83},{"p":0.275,"xi":5,"th":4.06},{"p":0.275,"xi":7.5,"th":6.79},{"p":0.275,"xi":10,"th":10.1},{"p":0.275,"xi":15,"th":17.36},{"p":0.275,"xi":20,"th":26.83},{"p":0.275,"xi":25,"th":45.42},{"p":0.275,"xi":30,"th":72.69},{"p":0.275,"xi":40,"th":90},{"p":0.275,"xi":50,"th":90},{"p":0.275,"xi":60,"th":90},{"p":0.275,"xi":70,"th":90},{"p":0.275,"xi":80,"th":90},{"p":0.275,"xi":90,"th":90},
{"p":0.3,"xi":0,"th":0},{"p":0.3,"xi":2.5,"th":1.69},{"p":0.3,"xi":5,"th":3.73},{"p":0.3,"xi":7.5,"th":6.19},{"p":0.3,"xi":10,"th":9.13},{"p":0.3,"xi":15,"th":15.47},{"p":0.3,"xi":20,"th":23.49},{"p":0.3,"xi":25,"th":38.33},{"p":0.3,"xi":30,"th":59.07},{"p":0.3,"xi":40,"th":90},{"p":0.3,"xi":50,"th":90},{"p":0.3,"xi":60,"th":90},{"p":0.3,"xi":70,"th":90},{"p":0.3,"xi":80,"th":90},{"p":0.3,"xi":90,"th":90},
{"p":0.325,"xi":0,"th":0},{"p":0.325,"xi":2.5,"th":1.57},{"p":0.325,"xi":5,"th":3.45},{"p":0.325,"xi":7.5,"th":5.7},{"p":0.325,"xi":10,"th":8.34},{"p":0.325,"xi":15,"th":13.98},{"p":0.325,"xi":20,"th":20.94},{"p":0.325,"xi":25,"th":33.27},{"p":0.325,"xi":30,"th":49.95},{"p":0.325,"xi":40,"th":87.05},{"p":0.325,"xi":50,"th":90},{"p":0.325,"xi":60,"th":90},{"p":0.325,"xi":70,"th":90},{"p":0.325,"xi":80,"th":90},{"p":0.325,"xi":90,"th":90},
{"p":0.35,"xi":0,"th":0},{"p":0.35,"xi":2.5,"th":1.48},{"p":0.35,"xi":5,"th":3.22},{"p":0.35,"xi":7.5,"th":5.28},{"p":0.35,"xi":10,"th":7.7},{"p":0.35,"xi":15,"th":12.77},{"p":0.35,"xi":20,"th":18.94},{"p":0.35,"xi":25,"th":29.48},{"p":0.35,"xi":30,"th":43.41},{"p":0.35,"xi":40,"th":73.7},{"p":0.35,"xi":50,"th":90},{"p":0.35,"xi":60,"th":90},{"p":0.35,"xi":70,"th":90},{"p":0.35,"xi":80,"th":90},{"p":0.35,"xi":90,"th":90},
{"p":0.375,"xi":0,"th":0},{"p":0.375,"xi":2.5,"th":1.39},{"p":0.375,"xi":5,"th":3.02},{"p":0.375,"xi":7.5,"th":4.93},{"p":0.375,"xi":10,"th":7.15},{"p":0.375,"xi":15,"th":11.78},{"p":0.375,"xi":20,"th":17.31},{"p":0.375,"xi":25,"th":26.51},{"p":0.375,"xi":30,"th":38.48},{"p":0.375,"xi":40,"th":64.13},{"p":0.375,"xi":50,"th":90},{"p":0.375,"xi":60,"th":90},{"p":0.375,"xi":70,"th":90},{"p":0.375,"xi":80,"th":90},{"p":0.375,"xi":90,"th":90},
{"p":0.4,"xi":0,"th":0},{"p":0.4,"xi":2.5,"th":1.32},{"p":0.4,"xi":5,"th":2.85},{"p":0.4,"xi":7.5,"th":4.63},{"p":0.4,"xi":10,"th":6.69},{"p":0.4,"xi":15,"th":10.95},{"p":0.4,"xi":20,"th":15.97},{"p":0.4,"xi":25,"th":24.13},{"p":0.4,"xi":30,"th":34.63},{"p":0.4,"xi":40,"th":56.91},{"p":0.4,"xi":50,"th":90},{"p":0.4,"xi":60,"th":90},{"p":0.4,"xi":70,"th":90},{"p":0.4,"xi":80,"th":90},{"p":0.4,"xi":90,"th":90},
{"p":0.425,"xi":0,"th":0},{"p":0.425,"xi":2.5,"th":1.25},{"p":0.425,"xi":5,"th":2.7},{"p":0.425,"xi":7.5,"th":4.37},{"p":0.425,"xi":10,"th":6.29},{"p":0.425,"xi":15,"th":10.23},{"p":0.425,"xi":20,"th":14.84},{"p":0.425,"xi":25,"th":22.18},{"p":0.425,"xi":30,"th":31.54},{"p":0.425,"xi":40,"th":51.27},{"p":0.425,"xi":50,"th":90},{"p":0.425,"xi":60,"th":90},{"p":0.425,"xi":70,"th":90},{"p":0.425,"xi":80,"th":90},{"p":0.425,"xi":90,"th":90},
{"p":0.45,"xi":0,"th":0},{"p":0.45,"xi":2.5,"th":1.19},{"p":0.45,"xi":5,"th":2.56},{"p":0.45,"xi":7.5,"th":4.14},{"p":0.45,"xi":10,"th":5.94},{"p":0.45,"xi":15,"th":9.62},{"p":0.45,"xi":20,"th":13.87},{"p":0.45,"xi":25,"th":20.55},{"p":0.45,"xi":30,"th":28.99},{"p":0.45,"xi":40,"th":46.73},{"p":0.45,"xi":50,"th":78.13},{"p":0.45,"xi":60,"th":90},{"p":0.45,"xi":70,"th":90},{"p":0.45,"xi":80,"th":90},{"p":0.45,"xi":90,"th":90},
{"p":0.475,"xi":0,"th":0},{"p":0.475,"xi":2.5,"th":1.15},{"p":0.475,"xi":5,"th":2.45},{"p":0.475,"xi":7.5,"th":3.94},{"p":0.475,"xi":10,"th":5.64},{"p":0.475,"xi":15,"th":9.08},{"p":0.475,"xi":20,"th":13.04},{"p":0.475,"xi":25,"th":19.16},{"p":0.475,"xi":30,"th":26.85},{"p":0.475,"xi":40,"th":43},{"p":0.475,"xi":50,"th":67.03},{"p":0.475,"xi":60,"th":90},{"p":0.475,"xi":70,"th":90},{"p":0.475,"xi":80,"th":90},{"p":0.475,"xi":90,"th":90},
{"p":0.5,"xi":0,"th":0},{"p":0.5,"xi":2.5,"th":1.14},{"p":0.5,"xi":5,"th":2.34},{"p":0.5,"xi":7.5,"th":3.76},{"p":0.5,"xi":10,"th":5.37},{"p":0.5,"xi":15,"th":8.61},{"p":0.5,"xi":20,"th":12.31},{"p":0.5,"xi":25,"th":17.96},{"p":0.5,"xi":30,"th":25.04},{"p":0.5,"xi":40,"th":39.86},{"p":0.5,"xi":50,"th":59.23},{"p":0.5,"xi":60,"th":90},{"p":0.5,"xi":70,"th":90},{"p":0.5,"xi":80,"th":90},{"p":0.5,"xi":90,"th":90},
{"p":0.525,"xi":0,"th":0},{"p":0.525,"xi":2.5,"th":1.13},{"p":0.525,"xi":5,"th":2.29},{"p":0.525,"xi":7.5,"th":3.6},{"p":0.525,"xi":10,"th":5.12},{"p":0.525,"xi":15,"th":8.19},{"p":0.525,"xi":20,"th":11.67},{"p":0.525,"xi":25,"th":16.92},{"p":0.525,"xi":30,"th":23.48},{"p":0.525,"xi":40,"th":37.19},{"p":0.525,"xi":50,"th":53.43},{"p":0.525,"xi":60,"th":87.62},{"p":0.525,"xi":70,"th":90},{"p":0.525,"xi":80,"th":90},{"p":0.525,"xi":90,"th":90},
{"p":0.55,"xi":0,"th":0},{"p":0.55,"xi":2.5,"th":1.13},{"p":0.55,"xi":5,"th":2.28},{"p":0.55,"xi":7.5,"th":3.45},{"p":0.55,"xi":10,"th":4.91},{"p":0.55,"xi":15,"th":7.82},{"p":0.55,"xi":20,"th":11.1},{"p":0.55,"xi":25,"th":16.01},{"p":0.55,"xi":30,"th":22.12},{"p":0.55,"xi":40,"th":34.9},{"p":0.55,"xi":50,"th":48.91},{"p":0.55,"xi":60,"th":72.58},{"p":0.55,"xi":70,"th":90},{"p":0.55,"xi":80,"th":90},{"p":0.55,"xi":90,"th":90},
{"p":0.575,"xi":0,"th":0},{"p":0.575,"xi":2.5,"th":1.12},{"p":0.575,"xi":5,"th":2.26},{"p":0.575,"xi":7.5,"th":3.43},{"p":0.575,"xi":10,"th":4.71},{"p":0.575,"xi":15,"th":7.48},{"p":0.575,"xi":20,"th":10.59},{"p":0.575,"xi":25,"th":15.2},{"p":0.575,"xi":30,"th":20.92},{"p":0.575,"xi":40,"th":32.9},{"p":0.575,"xi":50,"th":45.25},{"p":0.575,"xi":60,"th":63.31},{"p":0.575,"xi":70,"th":90},{"p":0.575,"xi":80,"th":90},{"p":0.575,"xi":90,"th":90},
{"p":0.6,"xi":0,"th":0},{"p":0.6,"xi":2.5,"th":1.11},{"p":0.6,"xi":5,"th":2.24},{"p":0.6,"xi":7.5,"th":3.4},{"p":0.6,"xi":10,"th":4.59},{"p":0.6,"xi":15,"th":7.18},{"p":0.6,"xi":20,"th":10.13},{"p":0.6,"xi":25,"th":14.48},{"p":0.6,"xi":30,"th":19.86},{"p":0.6,"xi":40,"th":31.13},{"p":0.6,"xi":50,"th":42.24},{"p":0.6,"xi":60,"th":56.9},{"p":0.6,"xi":70,"th":81.65},{"p":0.6,"xi":80,"th":90},{"p":0.6,"xi":90,"th":90},
{"p":0.625,"xi":0,"th":0},{"p":0.625,"xi":2.5,"th":1.1},{"p":0.625,"xi":5,"th":2.23},{"p":0.625,"xi":7.5,"th":3.38},{"p":0.625,"xi":10,"th":4.55},{"p":0.625,"xi":15,"th":6.9},{"p":0.625,"xi":20,"th":9.72},{"p":0.625,"xi":25,"th":13.84},{"p":0.625,"xi":30,"th":18.92},{"p":0.625,"xi":40,"th":29.57},{"p":0.625,"xi":50,"th":39.69},{"p":0.625,"xi":60,"th":52.13},{"p":0.625,"xi":70,"th":71.67},{"p":0.625,"xi":80,"th":90},{"p":0.625,"xi":90,"th":90},
{"p":0.65,"xi":0,"th":0},{"p":0.65,"xi":2.5,"th":1.1},{"p":0.65,"xi":5,"th":2.21},{"p":0.65,"xi":7.5,"th":3.35},{"p":0.65,"xi":10,"th":4.51},{"p":0.65,"xi":15,"th":6.85},{"p":0.65,"xi":20,"th":9.34},{"p":0.65,"xi":25,"th":13.25},{"p":0.65,"xi":30,"th":18.07},{"p":0.65,"xi":40,"th":28.17},{"p":0.65,"xi":50,"th":37.52},{"p":0.65,"xi":60,"th":48.39},{"p":0.65,"xi":70,"th":64.67},{"p":0.65,"xi":80,"th":80.68},{"p":0.65,"xi":90,"th":90},
{"p":0.675,"xi":0,"th":0},{"p":0.675,"xi":2.5,"th":1.09},{"p":0.675,"xi":5,"th":2.2},{"p":0.675,"xi":7.5,"th":3.33},{"p":0.675,"xi":10,"th":4.48},{"p":0.675,"xi":15,"th":6.79},{"p":0.675,"xi":20,"th":9.16},{"p":0.675,"xi":25,"th":12.72},{"p":0.675,"xi":30,"th":17.3},{"p":0.675,"xi":40,"th":26.91},{"p":0.675,"xi":50,"th":35.63},{"p":0.675,"xi":60,"th":45.36},{"p":0.675,"xi":70,"th":59.43},{"p":0.675,"xi":80,"th":73.34},{"p":0.675,"xi":90,"th":90},
{"p":0.7,"xi":0,"th":0},{"p":0.7,"xi":2.5,"th":1.09},{"p":0.7,"xi":5,"th":2.18},{"p":0.7,"xi":7.5,"th":3.3},{"p":0.7,"xi":10,"th":4.44},{"p":0.7,"xi":15,"th":6.74},{"p":0.7,"xi":20,"th":9.08},{"p":0.7,"xi":25,"th":12.24},{"p":0.7,"xi":30,"th":16.6},{"p":0.7,"xi":40,"th":25.78},{"p":0.7,"xi":50,"th":33.97},{"p":0.7,"xi":60,"th":42.85},{"p":0.7,"xi":70,"th":55.3},{"p":0.7,"xi":80,"th":67.74},{"p":0.7,"xi":90,"th":81.69},
{"p":0.725,"xi":0,"th":0},{"p":0.725,"xi":2.5,"th":1.08},{"p":0.725,"xi":5,"th":2.17},{"p":0.725,"xi":7.5,"th":3.28},{"p":0.725,"xi":10,"th":4.4},{"p":0.725,"xi":15,"th":6.69},{"p":0.725,"xi":20,"th":9.01},{"p":0.725,"xi":25,"th":11.8},{"p":0.725,"xi":30,"th":15.97},{"p":0.725,"xi":40,"th":24.74},{"p":0.725,"xi":50,"th":32.5},{"p":0.725,"xi":60,"th":40.72},{"p":0.725,"xi":70,"th":51.95},{"p":0.725,"xi":80,"th":63.31},{"p":0.725,"xi":90,"th":74.96},
{"p":0.75,"xi":0,"th":0},{"p":0.75,"xi":2.5,"th":1.08},{"p":0.75,"xi":5,"th":2.15},{"p":0.75,"xi":7.5,"th":3.25},{"p":0.75,"xi":10,"th":4.37},{"p":0.75,"xi":15,"th":6.63},{"p":0.75,"xi":20,"th":8.94},{"p":0.75,"xi":25,"th":11.5},{"p":0.75,"xi":30,"th":15.39},{"p":0.75,"xi":40,"th":23.8},{"p":0.75,"xi":50,"th":31.19},{"p":0.75,"xi":60,"th":38.88},{"p":0.75,"xi":70,"th":49.15},{"p":0.75,"xi":80,"th":59.67},{"p":0.75,"xi":90,"th":69.9},
{"p":0.775,"xi":0,"th":0},{"p":0.775,"xi":2.5,"th":1.07},{"p":0.775,"xi":5,"th":2.14},{"p":0.775,"xi":7.5,"th":3.23},{"p":0.775,"xi":10,"th":4.33},{"p":0.775,"xi":15,"th":6.58},{"p":0.775,"xi":20,"th":8.86},{"p":0.775,"xi":25,"th":11.39},{"p":0.775,"xi":30,"th":14.85},{"p":0.775,"xi":40,"th":22.94},{"p":0.775,"xi":50,"th":30.01},{"p":0.775,"xi":60,"th":37.28},{"p":0.775,"xi":70,"th":46.78},{"p":0.775,"xi":80,"th":56.63},{"p":0.775,"xi":90,"th":65.88},
{"p":0.8,"xi":0,"th":0},{"p":0.8,"xi":2.5,"th":1.06},{"p":0.8,"xi":5,"th":2.12},{"p":0.8,"xi":7.5,"th":3.2},{"p":0.8,"xi":10,"th":4.29},{"p":0.8,"xi":15,"th":6.53},{"p":0.8,"xi":20,"th":8.79},{"p":0.8,"xi":25,"th":11.27},{"p":0.8,"xi":30,"th":14.36},{"p":0.8,"xi":40,"th":22.14},{"p":0.8,"xi":50,"th":28.94},{"p":0.8,"xi":60,"th":35.86},{"p":0.8,"xi":70,"th":44.72},{"p":0.8,"xi":80,"th":54.02},{"p":0.8,"xi":90,"th":62.6},
{"p":0.825,"xi":0,"th":0},{"p":0.825,"xi":2.5,"th":1.05},{"p":0.825,"xi":5,"th":2.11},{"p":0.825,"xi":7.5,"th":3.18},{"p":0.825,"xi":10,"th":4.26},{"p":0.825,"xi":15,"th":6.47},{"p":0.825,"xi":20,"th":8.71},{"p":0.825,"xi":25,"th":11.16},{"p":0.825,"xi":30,"th":13.9},{"p":0.825,"xi":40,"th":21.4},{"p":0.825,"xi":50,"th":27.96},{"p":0.825,"xi":60,"th":34.6},{"p":0.825,"xi":70,"th":42.92},{"p":0.825,"xi":80,"th":51.76},{"p":0.825,"xi":90,"th":59.84},
{"p":0.85,"xi":0,"th":0},{"p":0.85,"xi":2.5,"th":1.04},{"p":0.85,"xi":5,"th":2.09},{"p":0.85,"xi":7.5,"th":3.15},{"p":0.85,"xi":10,"th":4.22},{"p":0.85,"xi":15,"th":6.42},{"p":0.85,"xi":20,"th":8.64},{"p":0.85,"xi":25,"th":11.04},{"p":0.85,"xi":30,"th":13.7},{"p":0.85,"xi":40,"th":20.72},{"p":0.85,"xi":50,"th":27.07},{"p":0.85,"xi":60,"th":33.47},{"p":0.85,"xi":70,"th":41.33},{"p":0.85,"xi":80,"th":49.76},{"p":0.85,"xi":90,"th":57.48},
{"p":0.875,"xi":0,"th":0},{"p":0.875,"xi":2.5,"th":1.04},{"p":0.875,"xi":5,"th":2.08},{"p":0.875,"xi":7.5,"th":3.13},{"p":0.875,"xi":10,"th":4.18},{"p":0.875,"xi":15,"th":6.37},{"p":0.875,"xi":20,"th":8.57},{"p":0.875,"xi":25,"th":10.93},{"p":0.875,"xi":30,"th":13.5},{"p":0.875,"xi":40,"th":20.09},{"p":0.875,"xi":50,"th":26.26},{"p":0.875,"xi":60,"th":32.44},{"p":0.875,"xi":70,"th":39.91},{"p":0.875,"xi":80,"th":48},{"p":0.875,"xi":90,"th":55.42},
{"p":0.9,"xi":0,"th":0},{"p":0.9,"xi":2.5,"th":1.03},{"p":0.9,"xi":5,"th":2.06},{"p":0.9,"xi":7.5,"th":3.1},{"p":0.9,"xi":10,"th":4.15},{"p":0.9,"xi":15,"th":6.31},{"p":0.9,"xi":20,"th":8.49},{"p":0.9,"xi":25,"th":10.82},{"p":0.9,"xi":30,"th":13.3},{"p":0.9,"xi":40,"th":19.5},{"p":0.9,"xi":50,"th":25.5},{"p":0.9,"xi":60,"th":31.5},{"p":0.9,"xi":70,"th":38.64},{"p":0.9,"xi":80,"th":46.42},{"p":0.9,"xi":90,"th":53.61},
{"p":0.925,"xi":0,"th":0},{"p":0.925,"xi":2.5,"th":1.02},{"p":0.925,"xi":5,"th":2.05},{"p":0.925,"xi":7.5,"th":3.08},{"p":0.925,"xi":10,"th":4.11},{"p":0.925,"xi":15,"th":6.26},{"p":0.925,"xi":20,"th":8.42},{"p":0.925,"xi":25,"th":10.7},{"p":0.925,"xi":30,"th":13.1},{"p":0.925,"xi":40,"th":19.13},{"p":0.925,"xi":50,"th":25.13},{"p":0.925,"xi":60,"th":31.13},{"p":0.925,"xi":70,"th":37.61},{"p":0.925,"xi":80,"th":45},{"p":0.925,"xi":90,"th":52},
{"p":0.95,"xi":0,"th":0},{"p":0.95,"xi":2.5,"th":1.01},{"p":0.95,"xi":5,"th":2.03},{"p":0.95,"xi":7.5,"th":3.05},{"p":0.95,"xi":10,"th":4.07},{"p":0.95,"xi":15,"th":6.21},{"p":0.95,"xi":20,"th":8.35},{"p":0.95,"xi":25,"th":10.58},{"p":0.95,"xi":30,"th":12.9},{"p":0.95,"xi":40,"th":18.75},{"p":0.95,"xi":50,"th":24.75},{"p":0.95,"xi":60,"th":30.75},{"p":0.95,"xi":70,"th":37.14},{"p":0.95,"xi":80,"th":43.7},{"p":0.95,"xi":90,"th":50.56},
{"p":0.975,"xi":0,"th":0},{"p":0.975,"xi":2.5,"th":1.01},{"p":0.975,"xi":5,"th":2.02},{"p":0.975,"xi":7.5,"th":3.03},{"p":0.975,"xi":10,"th":4.04},{"p":0.975,"xi":15,"th":6.15},{"p":0.975,"xi":20,"th":8.27},{"p":0.975,"xi":25,"th":10.47},{"p":0.975,"xi":30,"th":12.7},{"p":0.975,"xi":40,"th":18.38},{"p":0.975,"xi":50,"th":24.38},{"p":0.975,"xi":60,"th":30.38},{"p":0.975,"xi":70,"th":36.67},{"p":0.975,"xi":80,"th":42.95},{"p":0.975,"xi":90,"th":49.25},
{"p":1,"xi":0,"th":0},{"p":1,"xi":2.5,"th":1},{"p":1,"xi":5,"th":2},{"p":1,"xi":7.5,"th":3},{"p":1,"xi":10,"th":4},{"p":1,"xi":15,"th":6.1},{"p":1,"xi":20,"th":8.2},{"p":1,"xi":25,"th":10.35},{"p":1,"xi":30,"th":12.5},{"p":1,"xi":35,"th":15.1},{"p":1,"xi":40,"th":18},{"p":1,"xi":45,"th":21},{"p":1,"xi":50,"th":24},{"p":1,"xi":55,"th":27},{"p":1,"xi":60,"th":30},{"p":1,"xi":65,"th":33.1},{"p":1,"xi":70,"th":36.2},{"p":1,"xi":75,"th":39.2},{"p":1,"xi":80,"th":42.2},{"p":1,"xi":85,"th":45.1},{"p":1,"xi":90,"th":48}
  ]},
  "mark": {"type": "area", "orient": "horizontal", "clip": true},
  "encoding": {
    "y": {"field": "xi", "type": "quantitative", "scale": {"domain": [0, 90], "nice": false, "zero": false},
          "axis": {"orient": "right", "zindex": 1, "title": null, "labels": false, "values": [0,10,20,30,40,50,60,70,80,90], "grid": false}},
    "x": {"field": "th", "type": "quantitative", "stack": null, "scale": {"domain": [0, 90], "nice": false, "zero": false},
          "axis": {"orient": "top", "zindex": 1, "title": null, "labels": false, "values": [0,10,20,30,40,50,60,70,80,90], "grid": false}},
    "x2": {"datum": 0},
    "detail": {"field": "p", "type": "quantitative"},
    "fill": {"field": "p", "type": "quantitative",
             "scale": {"type": "linear", "domain": [0,0.05,0.1,0.15,0.2,0.25,0.3,0.35,0.4,0.45,0.5,0.55,0.6,0.65,0.7,0.75,0.8,0.85,0.9,0.95,1],
                       "range": ["#352a87","#353eaf","#1b55d7","#036ae1","#0f77db","#1484d4","#0d93d2","#06a0cd","#07aac1","#18b1b2","#33b8a1","#55bd8e","#7abf7c","#9bbf6f","#b8bd63","#d3bb58","#ecb94c","#fec13a","#fad12b","#f5e31e","#f9fb0e"],
                       "interpolate": "rgb", "clamp": true},
             "legend": null}
  }
 }
],
"resolve": {"axis": {"x": "independent", "y": "independent"}}
}
